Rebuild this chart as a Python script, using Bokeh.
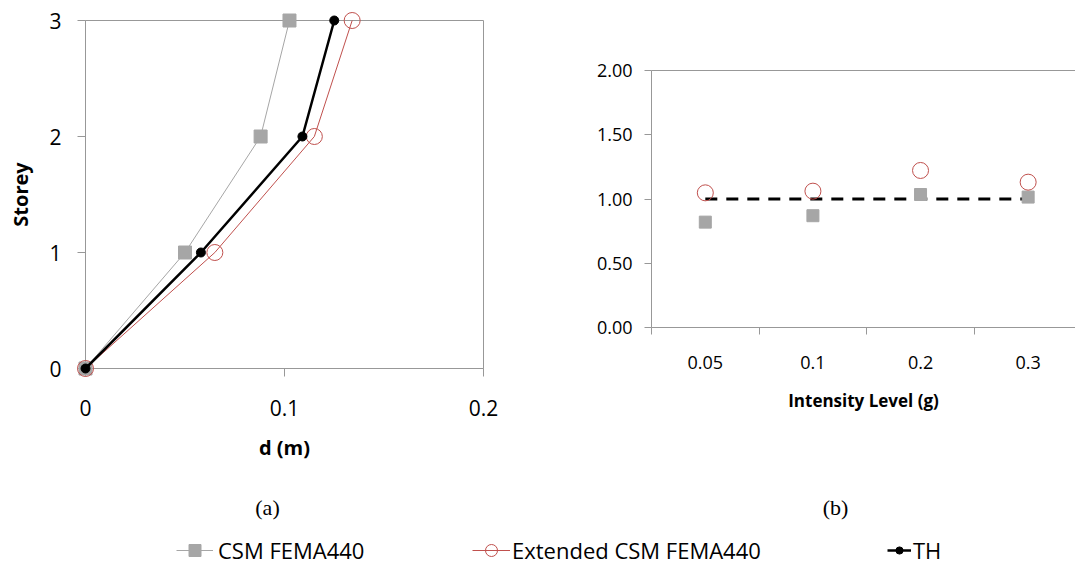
from bokeh.plotting import figure
from bokeh.models import (Range1d, FixedTicker, NumeralTickFormatter, LinearAxis, Label,
                          Legend, LegendItem, ColumnDataSource)
from bokeh.layouts import column, row
from bokeh.embed import file_html
from bokeh.resources import INLINE

# ---------------- data ----------------
storey = [0, 1, 2, 3]
csm_d = [0.0, 0.050, 0.088, 0.1025]
ext_d = [0.0, 0.065, 0.115, 0.134]
th_d = [0.0, 0.058, 0.109, 0.125]

intensity = ["0.05", "0.1", "0.2", "0.3"]
csm_ratio = [0.82, 0.87, 1.035, 1.015]
ext_ratio = [1.048, 1.061, 1.222, 1.131]
th_ratio = [1.0, 1.0, 1.0, 1.0]

xticks_a = [0, 0.1, 0.2]
yticks_a = [0, 1, 2, 3]
yticks_b = [0.0, 0.5, 1.0, 1.5, 2.0]

# ---------------- styles ----------------
FONT = "Open Sans"
AX = "#989898"
GRAY = "#A6A6A6"
RED = "#C0504D"

# ---------------- panel (a) ----------------
p1 = figure(width=560, height=470, x_range=Range1d(0, 0.2), y_range=Range1d(0, 3),
            output_backend="svg", toolbar_location=None, frame_align=False,
            min_border_left=85, min_border_right=77, min_border_top=20, min_border_bottom=102)
p1.grid.visible = False
p1.outline_line_color = AX

for ax in (p1.xaxis[0], p1.yaxis[0]):
    ax.axis_line_color = AX
    ax.major_tick_line_color = AX
    ax.minor_tick_line_color = None
    ax.major_tick_in = 0
    ax.major_tick_out = 8
    ax.major_label_text_font = FONT
    ax.major_label_text_font_size = "21px"
    ax.major_label_text_color = "black"
    ax.axis_label_text_font = FONT
    ax.axis_label_text_font_style = "bold"
    ax.axis_label_text_font_size = "20px"
    ax.axis_label_text_color = "black"

p1.xaxis.ticker = FixedTicker(ticks=xticks_a)
p1.xaxis.formatter = NumeralTickFormatter(format="0.[0]")
p1.xaxis.major_label_standoff = 23
p1.xaxis.axis_label = "d (m)"
p1.xaxis.axis_label_standoff = 15

p1.yaxis.ticker = FixedTicker(ticks=yticks_a)
p1.yaxis.formatter = NumeralTickFormatter(format="0")
p1.yaxis.major_label_standoff = 16
p1.yaxis.axis_label = "Storey"
p1.yaxis.axis_label_standoff = 12

p1.line(csm_d, storey, line_color=GRAY, line_width=1, level="overlay")
p1.scatter(csm_d, storey, marker="square", size=13, fill_color=GRAY, line_color=GRAY, level="overlay")
p1.line(ext_d, storey, line_color=RED, line_width=1, level="overlay")
p1.scatter(ext_d, storey, marker="circle", size=16, fill_color=None, line_color=RED, line_width=1, level="overlay")
p1.line(th_d, storey, line_color="black", line_width=2.5, level="overlay")
p1.scatter(th_d, storey, marker="circle", size=9, fill_color="black", line_color="black", level="overlay")

# ---------------- panel (b) ----------------
xpos = [i + 0.5 for i in range(len(intensity))]
p2 = figure(width=515, height=470, x_range=Range1d(0, 3.94), y_range=Range1d(0, 2),
            output_backend="svg", toolbar_location=None, frame_align=False,
            min_border_left=91, min_border_right=0, min_border_top=70, min_border_bottom=143)
p2.grid.visible = False
p2.outline_line_color = None

for ax in (p2.xaxis[0], p2.yaxis[0]):
    ax.axis_line_color = AX
    ax.major_label_text_font = FONT
    ax.major_label_text_font_size = "18px"
    ax.major_label_text_color = "black"

p2.yaxis.ticker = FixedTicker(ticks=yticks_b)
p2.yaxis.formatter = NumeralTickFormatter(format="0.00")
p2.yaxis.major_tick_line_color = AX
p2.yaxis.minor_tick_line_color = None
p2.yaxis.major_tick_in = 0
p2.yaxis.major_tick_out = 7
p2.yaxis.major_label_standoff = 12

p2.xaxis.ticker = FixedTicker(ticks=xpos, minor_ticks=list(range(len(intensity) + 1)))
p2.xaxis.major_label_overrides = {x: lab for x, lab in zip(xpos, intensity)}
p2.xaxis.major_tick_line_color = None
p2.xaxis.major_tick_in = 0
p2.xaxis.major_tick_out = 0
p2.xaxis.minor_tick_line_color = AX
p2.xaxis.minor_tick_in = 0
p2.xaxis.minor_tick_out = 7
p2.xaxis.major_label_standoff = 21
p2.xaxis.axis_label = "Intensity Level (g)"
p2.xaxis.axis_label_text_font = FONT
p2.xaxis.axis_label_text_font_style = "bold"
p2.xaxis.axis_label_text_font_size = "17px"
p2.xaxis.axis_label_text_color = "black"
p2.xaxis.axis_label_standoff = 17

top = LinearAxis(ticker=FixedTicker(ticks=[]), axis_line_color=AX,
                 major_tick_line_color=None, minor_tick_line_color=None,
                 major_label_text_font_size="0px")
p2.add_layout(top, "above")

p2.line(xpos, th_ratio, line_color="black", line_width=3, line_dash="12 9", level="overlay")
p2.scatter(xpos, csm_ratio, marker="square", size=12, fill_color=GRAY, line_color=GRAY, level="overlay")
p2.scatter(xpos, ext_ratio, marker="circle", size=16, fill_color=None, line_color=RED, line_width=1, level="overlay")

# ---------------- captions + legend ----------------
p3 = figure(width=1075, height=96, x_range=Range1d(0, 1), y_range=Range1d(0, 1),
            output_backend="svg", toolbar_location=None, frame_align=False,
            x_axis_location=None, y_axis_location=None, min_border=0)
p3.grid.visible = False
p3.outline_line_color = None

for txt, xs in (("(a)", 267), ("(b)", 835)):
    p3.add_layout(Label(x=xs, y=59, x_units="screen", y_units="screen", text=txt,
                        text_align="center", text_baseline="middle",
                        text_font="Liberation Serif", text_font_size="22px", text_color="black"))

nan = float("nan")
dummy = ColumnDataSource(dict(x=[nan], y=[nan]))
l1 = p3.line("x", "y", source=dummy, line_color=GRAY, line_width=1)
m1 = p3.scatter("x", "y", source=dummy, marker="square", fill_color=GRAY, line_color=GRAY)
l2 = p3.line("x", "y", source=dummy, line_color=RED, line_width=1)
m2 = p3.scatter("x", "y", source=dummy, marker="circle", fill_color=None, line_color=RED, line_width=1)
l3 = p3.line("x", "y", source=dummy, line_color="black", line_width=2.5)
m3 = p3.scatter("x", "y", source=dummy, marker="circle", fill_color="black", line_color="black")

ROW_H = 30
legend_specs = [
    ("CSM FEMA440", [l1, m1], 176, 37, 30, 5),
    ("Extended CSM FEMA440", [l2, m2], 472, 38, 30, 2),
    ("TH", [l3, m3], 887, 24, 18, 2),
]
for lab, rends, lx, gw, gh, so in legend_specs:
    leg = Legend(items=[LegendItem(label=lab, renderers=rends)], location=(lx, 16 - ROW_H / 2),
                 orientation="horizontal", glyph_width=gw, glyph_height=gh, label_standoff=so,
                 padding=0, margin=0, border_line_color=None, background_fill_alpha=0,
                 label_text_font=FONT, label_text_font_size="22px", label_height=ROW_H,
                 label_text_color="black")
    p3.add_layout(leg)

layout = column(row(p1, p2), p3)
open("out.html", "w").write(file_html(layout, INLINE))
